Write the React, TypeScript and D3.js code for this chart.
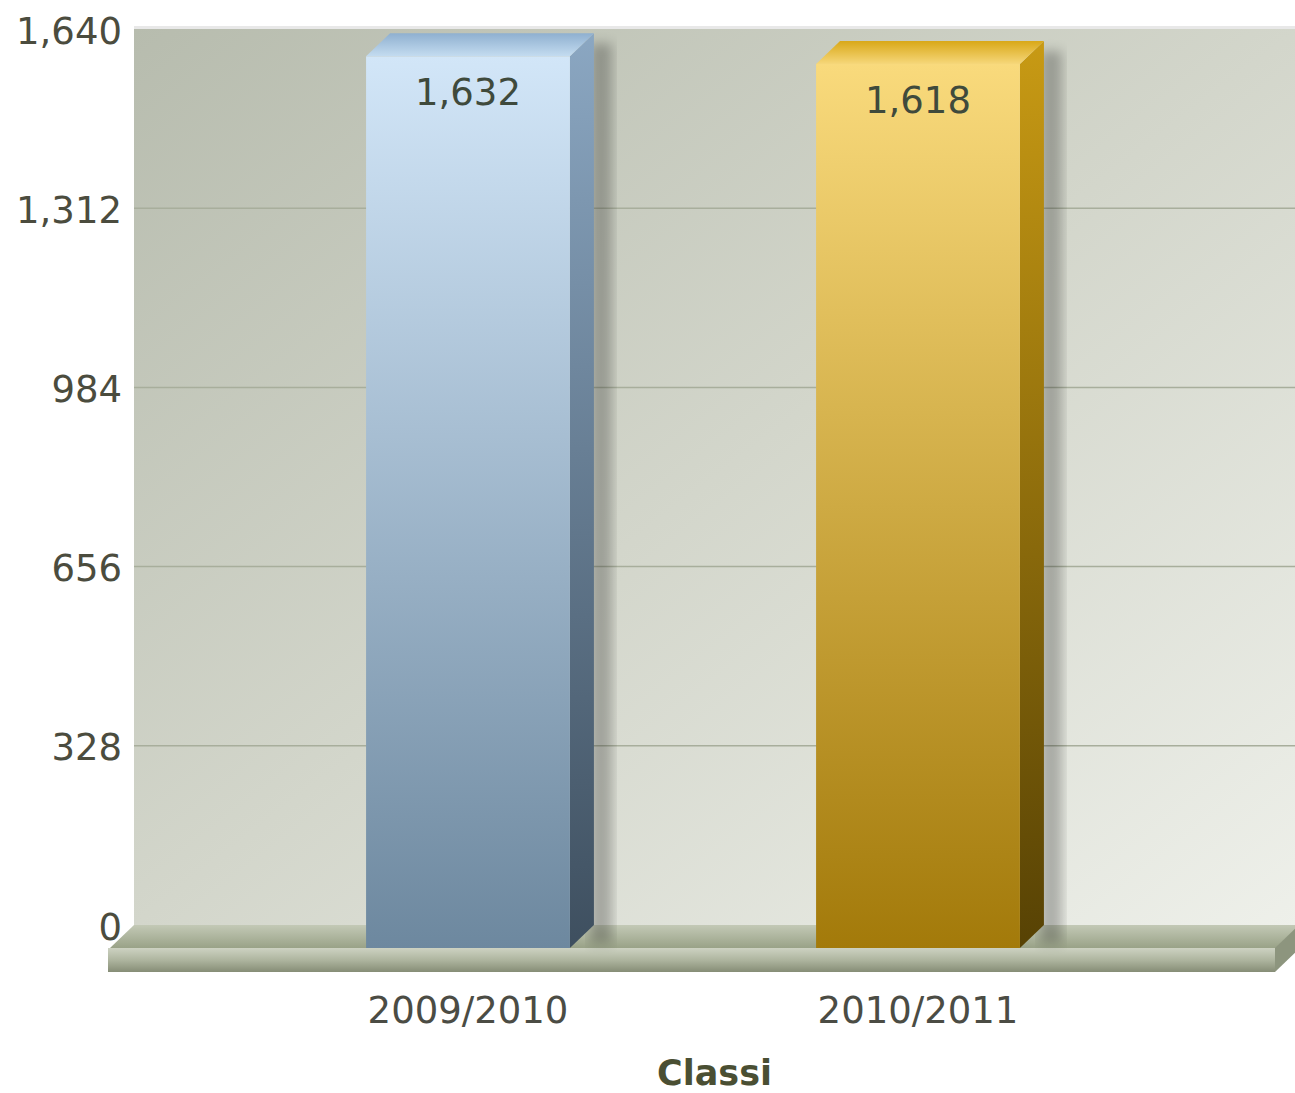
import React from "react";
import * as d3 from "d3";

const categories = ["2009/2010", "2010/2011"];
const values = [1632, 1618];
const tickValues = [0, 328, 656, 984, 1312, 1640];
const axisTitle = "Classi";

const W = 1295;
const H = 1093;
const DX = -24;
const DY = 23;
const plotLeft = 134;
const plotRight = 1300;
const plotTop = 29;
const plotBottom = 925;
const floorFrontRight = 1275;

const fmt = d3.format(",");

const palettes = [
  { frontTop: "#d2e6f8", frontBot: "#6d889f", sideTop: "#8ba7c2", sideBot: "#3e4f5f", topA: "#8fb0d0", topB: "#c4dcf0" },
  { frontTop: "#f9da7c", frontBot: "#a37a0a", sideTop: "#c89a14", sideBot: "#574204", topA: "#d9a818", topB: "#f6d77a" },
];

export default function App() {
  const y = d3.scaleLinear().domain([0, 1640]).range([plotBottom, plotTop]);
  const x = d3.scaleBand<string>().domain(categories).range([267, 1167]).paddingInner(0.547).paddingOuter(0.2735);
  const bw = x.bandwidth();
  const font = "'DejaVu Sans', Verdana, sans-serif";

  return (
    <svg width={W} height={H} style={{ position: "absolute", left: 0, top: 0, display: "block" }}>
      <defs>
        <linearGradient id="wall" x1="0" y1="0" x2="1" y2="1">
          <stop offset="0" stopColor="#b7bcae" />
          <stop offset="0.5" stopColor="#d3d6cb" />
          <stop offset="1" stopColor="#eef0ea" />
        </linearGradient>
        <linearGradient id="floorTop" x1="0" y1="0" x2="0" y2="1">
          <stop offset="0" stopColor="#c3c9b6" />
          <stop offset="1" stopColor="#99a287" />
        </linearGradient>
        <linearGradient id="floorFront" x1="0" y1="0" x2="0" y2="1">
          <stop offset="0" stopColor="#cdd2c2" />
          <stop offset="0.5" stopColor="#aeb59f" />
          <stop offset="1" stopColor="#868d76" />
        </linearGradient>
        {palettes.map((p, i) => (
          <React.Fragment key={i}>
            <linearGradient id={`front${i}`} x1="0" y1="0" x2="0" y2="1">
              <stop offset="0" stopColor={p.frontTop} />
              <stop offset="1" stopColor={p.frontBot} />
            </linearGradient>
            <linearGradient id={`side${i}`} x1="0" y1="0" x2="0" y2="1">
              <stop offset="0" stopColor={p.sideTop} />
              <stop offset="1" stopColor={p.sideBot} />
            </linearGradient>
            <linearGradient id={`top${i}`} x1="0" y1="0" x2="0" y2="1">
              <stop offset="0" stopColor={p.topA} />
              <stop offset="1" stopColor={p.topB} />
            </linearGradient>
          </React.Fragment>
        ))}
        <filter id="shadow" x="-20%" y="-20%" width="140%" height="140%">
          <feGaussianBlur stdDeviation="6" />
        </filter>
      </defs>

      {/* back wall */}
      <rect x={plotLeft} y={plotTop} width={plotRight - plotLeft} height={plotBottom - plotTop} fill="url(#wall)" />
      <rect x={plotLeft} y={plotTop - 3} width={plotRight - plotLeft} height={3} fill="#d8d8d8" opacity={0.6} />

      {/* gridlines */}
      {tickValues.slice(1, -1).map((t) => (
        <line key={t} x1={plotLeft} x2={plotRight} y1={y(t)} y2={y(t)} stroke="#a8ae9c" strokeWidth={1.5} />
      ))}

      {/* tick labels */}
      {tickValues.map((t) => (
        <text key={t} x={122} y={y(t) + 2} textAnchor="end" dominantBaseline="central" fontFamily={font} fontSize={37} fill="#4b4c3e">
          {fmt(t)}
        </text>
      ))}

      {/* floor */}
      <path
        d={`M${plotLeft},${plotBottom} L${plotRight},${plotBottom} L${plotRight + DX},${plotBottom + DY} L${plotLeft + DX},${plotBottom + DY} Z`}
        fill="url(#floorTop)"
      />
      <rect x={plotLeft + DX - 2} y={plotBottom + DY} width={floorFrontRight - (plotLeft + DX - 2)} height={24} fill="url(#floorFront)" />
      <path
        d={`M${floorFrontRight},${plotBottom + DY} L${floorFrontRight - DX},${plotBottom} L${floorFrontRight - DX},${plotBottom + 24} L${floorFrontRight},${plotBottom + DY + 24} Z`}
        fill="#8d957e"
      />

      {/* bars */}
      {categories.map((c, i) => {
        const bx = x(c)!;
        const yt = y(values[i]);
        const yb = y(0);
        const fx = bx + DX;
        const fyT = yt + DY;
        const fyB = yb + DY;
        return (
          <g key={c}>
            <rect x={bx + bw - 4} y={yt + 10} width={22} height={yb - yt + 8} fill="#000" opacity={0.25} filter="url(#shadow)" />
            <path
              d={`M${fx + bw},${fyT} L${bx + bw},${yt} L${bx + bw},${yb} L${fx + bw},${fyB} Z`}
              fill={`url(#side${i})`}
            />
            <path
              d={`M${fx},${fyT} L${bx},${yt} L${bx + bw},${yt} L${fx + bw},${fyT} Z`}
              fill={`url(#top${i})`}
            />
            <rect x={fx} y={fyT} width={bw} height={fyB - fyT} fill={`url(#front${i})`} />
            <text x={fx + bw / 2} y={fyT + 36} textAnchor="middle" dominantBaseline="central" fontFamily={font} fontSize={37} fill="#3f4a3c">
              {fmt(values[i])}
            </text>
            <text x={fx + bw / 2} y={1010} textAnchor="middle" dominantBaseline="central" fontFamily={font} fontSize={37} fill="#4b4c44">
              {c}
            </text>
          </g>
        );
      })}

      <text x={(plotLeft + 1295) / 2} y={1073} textAnchor="middle" dominantBaseline="central" fontFamily={font} fontSize={35} fontWeight="bold" fill="#4a4f33">
        {axisTitle}
      </text>
    </svg>
  );
}
